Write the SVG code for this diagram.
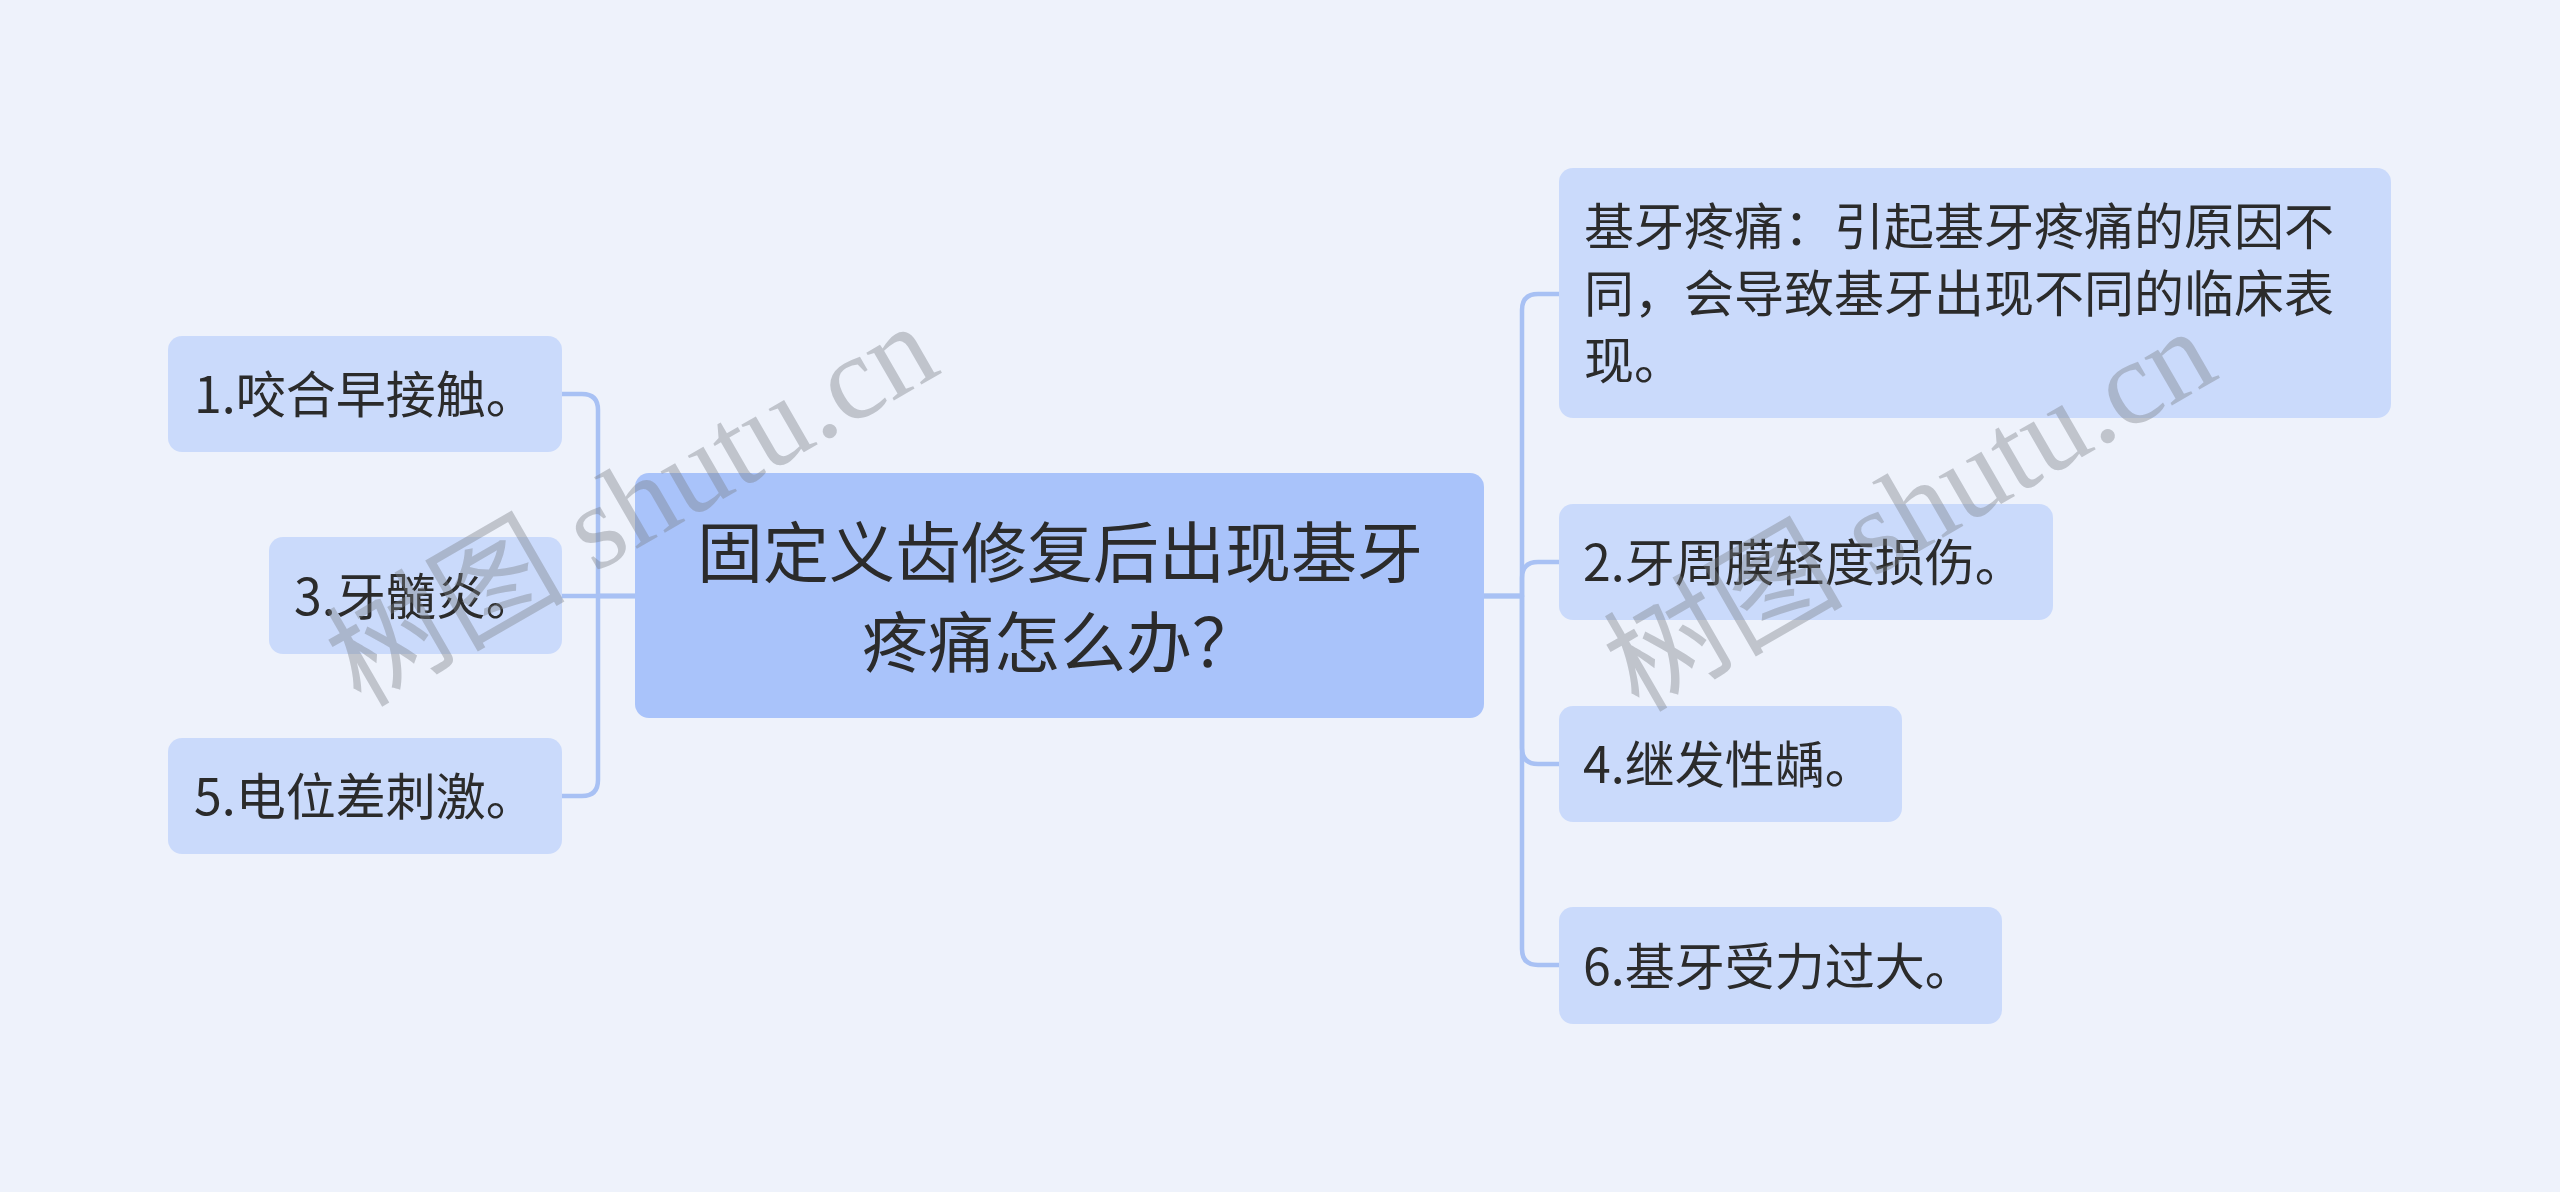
<svg xmlns="http://www.w3.org/2000/svg" width="2560" height="1192" viewBox="0 0 2560 1192">
<style>
.bg{fill:#eef2fb}
.child{fill:#cadafb}
.root{fill:#a9c3fa}
.t{font-family:"Noto Sans CJK SC","Noto Sans",sans-serif;font-size:50px;fill:#2b2b2b}
.rt{font-family:"Noto Sans CJK SC","Noto Sans",sans-serif;font-size:66px;fill:#2b2b2b;text-anchor:middle}
.conn{fill:none;stroke:#a8c1f4;stroke-width:4.5;stroke-linecap:round;stroke-linejoin:round}
.wm{font-family:"Liberation Serif","Noto Sans CJK SC",serif;font-size:120px;fill:#7a7f88;fill-opacity:0.4;text-anchor:middle}
</style>
<rect class="bg" x="0" y="0" width="2560" height="1192"/>
<g id="connectors">
<path class="conn" d="M562,596 H636"/>
<path class="conn" d="M636,596 H598 V410 Q598,394 582,394 H562"/>
<path class="conn" d="M636,596 H598 V780 Q598,796 582,796 H562"/>
<path class="conn" d="M1484,596 H1522 V310 Q1522,294 1538,294 H1559"/>
<path class="conn" d="M1484,596 H1522 V578 Q1522,562 1538,562 H1559"/>
<path class="conn" d="M1484,596 H1522 V748 Q1522,764 1538,764 H1559"/>
<path class="conn" d="M1484,596 H1522 V949 Q1522,965 1538,965 H1559"/>
</g>
<g id="root">
<rect class="root" x="635" y="473" width="849" height="245" rx="14"/>
<text class="rt" x="1060" y="577">固定义齿修复后出现基牙</text>
<text class="rt" x="1060" y="667">疼痛怎么办？</text>
</g>
<g id="n1">
<rect class="child" x="168" y="336" width="394" height="116" rx="14"/>
<text class="t" x="194" y="413">1.咬合早接触。</text>
</g>
<g id="n3">
<rect class="child" x="269" y="537" width="293" height="117" rx="14"/>
<text class="t" x="294" y="615">3.牙髓炎。</text>
</g>
<g id="n5">
<rect class="child" x="168" y="738" width="394" height="116" rx="14"/>
<text class="t" x="194" y="815">5.电位差刺激。</text>
</g>
<g id="n0">
<rect class="child" x="1559" y="168" width="832" height="250" rx="14"/>
<text class="t" x="1584" y="245">基牙疼痛：引起基牙疼痛的原因不</text>
<text class="t" x="1584" y="312">同，会导致基牙出现不同的临床表</text>
<text class="t" x="1584" y="379">现。</text>
</g>
<g id="n2">
<rect class="child" x="1559" y="504" width="494" height="116" rx="14"/>
<text class="t" x="1583" y="581">2.牙周膜轻度损伤。</text>
</g>
<g id="n4">
<rect class="child" x="1559" y="706" width="343" height="116" rx="14"/>
<text class="t" x="1583" y="783">4.继发性龋。</text>
</g>
<g id="n6">
<rect class="child" x="1559" y="907" width="443" height="117" rx="14"/>
<text class="t" x="1583" y="985">6.基牙受力过大。</text>
</g>
<g id="watermarks">
<text class="wm" transform="translate(652,540) rotate(-30)">树图 shutu.cn</text>
<text class="wm" transform="translate(1930,545) rotate(-30)">树图 shutu.cn</text>
</g>
</svg>
